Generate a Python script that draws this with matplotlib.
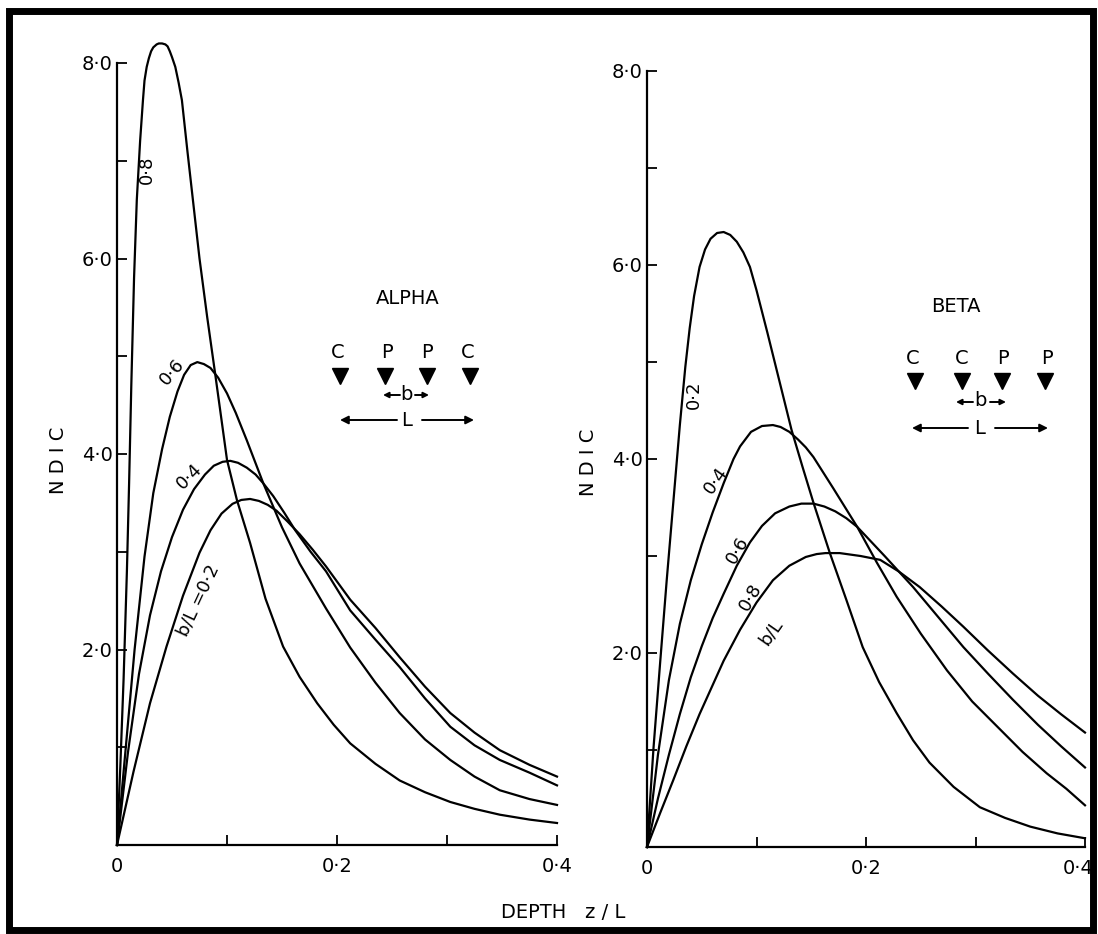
import numpy as np
import matplotlib.pyplot as plt
import matplotlib.transforms as mtransforms
from matplotlib.lines import Line2D
from matplotlib.patches import FancyArrowPatch, Rectangle

W, H = 1098, 934

# ALPHA array (left panel): depth z/L and NDIC for b/L = 0.8, 0.6, 0.4, 0.2
a08_z = [0, 0.003, 0.006, 0.009, 0.011, 0.013, 0.0155, 0.018, 0.021, 0.0236, 0.025, 0.027, 0.029, 0.031,
         0.033, 0.036, 0.038, 0.041, 0.044, 0.046, 0.048, 0.050, 0.0515, 0.053, 0.056, 0.059, 0.064,
         0.069, 0.075, 0.082, 0.089, 0.095, 0.100, 0.109, 0.121, 0.135, 0.151, 0.166, 0.182, 0.197,
         0.212, 0.235, 0.257, 0.280, 0.303, 0.325, 0.348, 0.375, 0.400]
a08_v = [0, 0.8, 1.7, 2.8, 3.7, 4.7, 5.8, 6.6, 7.2, 7.62, 7.82, 7.96, 8.05, 8.12,
         8.16, 8.19, 8.20, 8.20, 8.19, 8.17, 8.12, 8.06, 8.01, 7.96, 7.80, 7.62, 7.1,
         6.60, 6.0, 5.4, 4.84, 4.35, 3.94, 3.53, 3.09, 2.52, 2.03, 1.72, 1.45, 1.23,
         1.04, 0.83, 0.66, 0.54, 0.44, 0.37, 0.31, 0.26, 0.225]

a06_z = [0, 0.008, 0.016, 0.025, 0.033, 0.041, 0.048, 0.055, 0.061, 0.067, 0.073, 0.079, 0.085, 0.092,
         0.100, 0.108, 0.118, 0.133, 0.150, 0.166, 0.190, 0.212, 0.235, 0.257, 0.280, 0.303, 0.325,
         0.348, 0.375, 0.400]
a06_v = [0, 1.0, 2.0, 2.95, 3.6, 4.05, 4.38, 4.64, 4.81, 4.91, 4.94, 4.92, 4.88, 4.78,
         4.62, 4.42, 4.14, 3.70, 3.25, 2.88, 2.42, 2.02, 1.66, 1.35, 1.08, 0.87, 0.70,
         0.56, 0.47, 0.41]

a04_z = [0, 0.010, 0.020, 0.030, 0.040, 0.050, 0.060, 0.070, 0.080, 0.088, 0.096, 0.103, 0.110, 0.118,
         0.126, 0.133, 0.142, 0.152, 0.162, 0.176, 0.190, 0.212, 0.235, 0.257, 0.280, 0.303, 0.325,
         0.348, 0.375, 0.400]
a04_v = [0, 0.95, 1.75, 2.35, 2.8, 3.15, 3.43, 3.64, 3.79, 3.88, 3.92, 3.93, 3.91, 3.86,
         3.79, 3.70, 3.57, 3.40, 3.22, 3.00, 2.80, 2.40, 2.10, 1.82, 1.50, 1.21, 1.02,
         0.87, 0.74, 0.61]

a02_z = [0, 0.015, 0.030, 0.045, 0.060, 0.075, 0.085, 0.095, 0.105, 0.113, 0.121, 0.129, 0.137, 0.145,
         0.155, 0.166, 0.178, 0.190, 0.212, 0.235, 0.257, 0.280, 0.303, 0.325, 0.348, 0.375, 0.400]
a02_v = [0, 0.75, 1.45, 2.03, 2.55, 2.99, 3.22, 3.39, 3.49, 3.53, 3.54, 3.52, 3.48, 3.42,
         3.31, 3.18, 3.02, 2.85, 2.51, 2.22, 1.92, 1.62, 1.35, 1.15, 0.97, 0.82, 0.70]

# BETA array (right panel): b/L = 0.2, 0.4, 0.6, 0.8
b02_z = [0, 0.006, 0.012, 0.018, 0.024, 0.030, 0.035, 0.039, 0.043, 0.048, 0.053, 0.058, 0.064, 0.070,
         0.076, 0.082, 0.088, 0.094, 0.100, 0.110, 0.121, 0.132, 0.142, 0.152, 0.167, 0.182, 0.197,
         0.212, 0.228, 0.243, 0.258, 0.280, 0.304, 0.327, 0.350, 0.375, 0.400]
b02_v = [0, 1.03, 1.9, 2.75, 3.55, 4.35, 4.95, 5.35, 5.68, 5.98, 6.16, 6.27, 6.33, 6.34,
         6.31, 6.24, 6.13, 5.98, 5.74, 5.30, 4.80, 4.30, 3.92, 3.55, 3.03, 2.55, 2.06,
         1.70, 1.38, 1.10, 0.87, 0.62, 0.41, 0.30, 0.21, 0.14, 0.09]

b04_z = [0, 0.010, 0.020, 0.030, 0.040, 0.050, 0.060, 0.070, 0.079, 0.085, 0.095, 0.105, 0.115, 0.122,
         0.130, 0.138, 0.145, 0.152, 0.170, 0.192, 0.210, 0.228, 0.250, 0.274, 0.297, 0.320, 0.343,
         0.365, 0.383, 0.400]
b04_v = [0, 0.95, 1.72, 2.30, 2.75, 3.12, 3.45, 3.75, 4.00, 4.13, 4.28, 4.34, 4.35, 4.33,
         4.28, 4.20, 4.12, 4.02, 3.70, 3.30, 2.93, 2.58, 2.20, 1.82, 1.50, 1.24, 0.98,
         0.76, 0.60, 0.43]

b06_z = [0, 0.010, 0.020, 0.030, 0.040, 0.050, 0.060, 0.070, 0.082, 0.094, 0.105, 0.117, 0.130, 0.141,
         0.152, 0.162, 0.172, 0.182, 0.192, 0.217, 0.243, 0.266, 0.289, 0.312, 0.334, 0.357, 0.378,
         0.400]
b06_v = [0, 0.50, 0.95, 1.37, 1.75, 2.07, 2.36, 2.61, 2.90, 3.14, 3.31, 3.44, 3.51, 3.54,
         3.54, 3.51, 3.46, 3.39, 3.30, 3.00, 2.68, 2.37, 2.06, 1.78, 1.52, 1.26, 1.04,
         0.82]

b08_z = [0, 0.012, 0.024, 0.036, 0.048, 0.060, 0.070, 0.085, 0.100, 0.115, 0.130, 0.145, 0.155, 0.163,
         0.176, 0.195, 0.213, 0.230, 0.249, 0.269, 0.289, 0.311, 0.334, 0.357, 0.378, 0.400]
b08_v = [0, 0.35, 0.69, 1.04, 1.37, 1.67, 1.92, 2.24, 2.52, 2.75, 2.90, 2.99, 3.02, 3.03,
         3.03, 3.00, 2.96, 2.84, 2.68, 2.48, 2.27, 2.03, 1.79, 1.56, 1.37, 1.18]

x_ticks = [0, 0.1, 0.2, 0.3, 0.4]
x_labels = ['0', '', '0·2', '', '0·4']
y_ticks = [0, 1, 2, 3, 4, 5, 6, 7, 8]
y_labels = ['', '', '2·0', '', '4·0', '', '6·0', '', '8·0']


fig = plt.figure(figsize=(W / 100, H / 100), dpi=100)


def P(x, y):
    # pixel position -> figure fraction
    return x / W, 1 - y / H


def setup(ax):
    ax.set_xlim(0, 0.4)
    ax.set_ylim(0, 8)
    for s in ['top', 'right']:
        ax.spines[s].set_visible(False)
    for s in ['left', 'bottom']:
        ax.spines[s].set_linewidth(1.6)
    ax.set_xticks(x_ticks)
    ax.set_xticklabels(x_labels)
    ax.set_yticks(y_ticks)
    ax.set_yticklabels(y_labels)
    ax.tick_params(direction='in', length=7, width=1.3, labelsize=14)
    ax.tick_params(axis='x', pad=9)
    ax.tick_params(axis='y', pad=3)


def label(x, y, s, rot=0, size=13):
    fig.text(*P(x, y), s, rotation=rot, ha='center', va='center', fontsize=size)


def arrow(x0, x1, y, ms):
    fig.add_artist(FancyArrowPatch(P(x0, y), P(x1, y), transform=fig.transFigure,
                                   arrowstyle='-|>', mutation_scale=ms, lw=1.4, color='k',
                                   shrinkA=0, shrinkB=0))


def diagram(title, tpos, letters, lx, ly, tx, ty, b, bl, br, L, Ll, Lr):
    label(*tpos, title, size=14)
    for s, x in zip(letters, lx):
        label(x, ly, s, size=14)
    xs = [P(x, ty)[0] for x in tx]
    ys = [P(x, ty)[1] for x in tx]
    fig.add_artist(Line2D(xs, ys, transform=fig.transFigure, ls='none', marker='v',
                          ms=12, color='k'))
    label(b[0], b[1], 'b', size=14)
    arrow(bl[0], bl[1], b[1] + 1, 8)
    arrow(br[0], br[1], b[1] + 1, 8)
    label(L[0], L[1], 'L', size=14)
    arrow(Ll[0], Ll[1], L[1], 12)
    arrow(Lr[0], Lr[1], L[1], 12)


ax1 = fig.add_axes([117 / W, 1 - 845 / H, 440 / W, (845 - 63) / H])
ax2 = fig.add_axes([647 / W, 1 - 847 / H, 438 / W, (847 - 71) / H])
setup(ax1)
setup(ax2)

# last x label of the right panel sits a little left, clear of the frame
last = ax2.get_xticklabels()[-1]
last.set_transform(last.get_transform() +
                   mtransforms.ScaledTranslation(-7 / 100, 0, fig.dpi_scale_trans))

for z, v in [(a08_z, a08_v), (a06_z, a06_v), (a04_z, a04_v), (a02_z, a02_v)]:
    ax1.plot(z, v, color='k', lw=1.6, clip_on=False, solid_joinstyle='round')
for z, v in [(b02_z, b02_v), (b04_z, b04_v), (b06_z, b06_v), (b08_z, b08_v)]:
    ax2.plot(z, v, color='k', lw=1.6, clip_on=False, solid_joinstyle='round')

# curve labels
label(147, 170, '0·8', 90)
label(172, 372, '0·6', 50)
label(189, 476, '0·4', 45)
label(198, 600, 'b/L =0·2', 65)

label(694, 395, '0·2', 90)
label(716, 480, '0·4', 55)
label(738, 550, '0·6', 60)
label(751, 597, '0·8', 60)
label(771, 632, 'b/L', 55)

# axis titles
label(58, 460, 'N D I C', 90, 14)
label(588, 462, 'N D I C', 90, 14)
label(563, 912, 'DEPTH   z / L', 0, 14)

diagram('ALPHA', (408, 299), ['C', 'P', 'P', 'C'], [338, 387, 427, 468], 352,
        [340, 385, 427, 470], 376, (406, 394), (400, 383), (415, 429),
        (407, 420), (397, 340), (422, 474))
diagram('BETA', (956, 307), ['C', 'C', 'P', 'P'], [913, 962, 1003, 1047], 359,
        [915, 962, 1002, 1045], 381, (980, 401), (973, 956), (990, 1006),
        (980, 428), (968, 912), (995, 1048))

# frame round the whole figure
x0, y0 = P(9, 930)
x1, y1 = P(1093, 10.5)
fig.add_artist(Rectangle((x0, y0), x1 - x0, y1 - y0, transform=fig.transFigure,
                         fill=False, lw=5, edgecolor='k'))

fig.savefig('out.png', dpi=100)
